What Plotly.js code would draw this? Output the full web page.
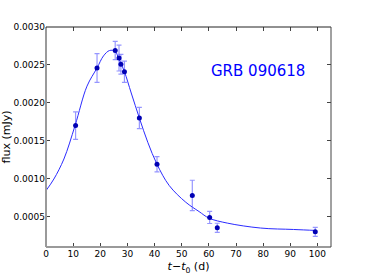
<!DOCTYPE html>
<html>
<head>
<meta charset="utf-8">
<script src="https://cdn.plot.ly/plotly-3.0.1.min.js"></script>
<style>html,body{margin:0;padding:0;background:#fff;}#chart{width:368px;height:276px;}</style>
</head>
<body>
<div id="chart"></div>
<script>
// Observed data points
var obsTime = [10.9, 18.8, 25.5, 26.9, 27.6, 28.9, 34.4, 40.9, 53.9, 60.3, 63.1, 99.2];
var obsFlux = [0.00170, 0.00246, 0.00269, 0.00259, 0.00251, 0.00241, 0.00180, 0.00119, 0.00078, 0.00049, 0.000353, 0.000300];
var obsErr  = [0.00018, 0.00019, 0.00012, 0.00017, 0.00013, 0.00014, 0.00014, 0.00010, 0.00020, 0.00008, 0.00006, 0.00006];

// Fitted model curve
var fitTime = [0, 2.9, 6.6, 10.7, 15.1, 18.8, 21.2, 23.4, 25.5, 26.7, 28.9, 31.4, 34.4, 37.5, 40.9, 45.4, 51.5, 56.4, 60.1, 66.8, 79, 91.2, 99.5];
var fitFlux = [0.000843, 0.000996, 0.00126, 0.00170, 0.00222, 0.00246, 0.00262, 0.00269, 0.00268, 0.00259, 0.00241, 0.00213, 0.00180, 0.00148, 0.00119, 0.00091, 0.00069, 0.000567, 0.00048, 0.000415, 0.00035, 0.000331, 0.000318];

var label = "GRB 090618";
var xTicks = [0,10,20,30,40,50,60,70,80,90,100];
var yTicks = [0.0005,0.0010,0.0015,0.0020,0.0025,0.0030];

var traces = [
  {x: fitTime, y: fitFlux, mode: 'lines', line: {color: '#2b2bff', width: 1, shape: 'spline', smoothing: 1}, hoverinfo: 'skip'},
  {x: obsTime, y: obsFlux, mode: 'markers',
   marker: {color: '#0000b4', size: 5},
   error_y: {type: 'data', array: obsErr, visible: true, color: 'rgba(80,80,255,0.6)', thickness: 1.2, width: 2.5}}
];

var fontFam = 'DejaVu Sans, sans-serif';
var layout = {
  width: 368, height: 276,
  margin: {l: 46, r: 37, t: 27, b: 29},
  paper_bgcolor: '#fff', plot_bgcolor: '#fff',
  showlegend: false,
  font: {family: fontFam, size: 9, color: '#000'},
  xaxis: {range: [0, 105], tickvals: xTicks, ticktext: xTicks.map(String), ticks: 'inside', ticklen: 4, tickcolor: '#444',
          mirror: 'allticks', showline: false, showgrid: false, zeroline: false,
          tickfont: {family: fontFam, size: 9},
          title: {text: '<i>t</i>\u2212<i>t</i><sub>0</sub> (d)', font: {family: fontFam, size: 11}, standoff: 4}},
  yaxis: {range: [0.0001, 0.0030], tickvals: yTicks, ticktext: yTicks.map(function(v){return v.toFixed(4);}), ticks: 'inside', ticklen: 4, tickcolor: '#444',
          mirror: 'allticks', showline: false, showgrid: false, zeroline: false,
          tickfont: {family: fontFam, size: 9},
          title: {text: 'flux (mJy)', font: {family: fontFam, size: 11}, standoff: 6}},
  shapes: [
    {type: 'line', xref: 'paper', yref: 'paper', x0: 0, x1: 0, y0: 0, y1: 1, line: {color: '#9a9a9a', width: 2}},
    {type: 'line', xref: 'paper', yref: 'paper', x0: 0, x1: 1, y0: 0, y1: 0, line: {color: '#9a9a9a', width: 2}},
    {type: 'line', xref: 'paper', yref: 'paper', x0: 0, x1: 1, y0: 1, y1: 1, line: {color: '#222', width: 1}},
    {type: 'line', xref: 'paper', yref: 'paper', x0: 1, x1: 1, y0: 0, y1: 1, line: {color: '#444', width: 1}}
  ],
  annotations: [
    {text: label, xref: 'paper', yref: 'paper', x: 0.745, y: 0.80, xanchor: 'center', yanchor: 'middle', showarrow: false,
     font: {family: fontFam, size: 15, color: '#0000ff'}}
  ]
};

Plotly.newPlot('chart', traces, layout, {displayModeBar: false, staticPlot: true});
</script>
</body>
</html>
